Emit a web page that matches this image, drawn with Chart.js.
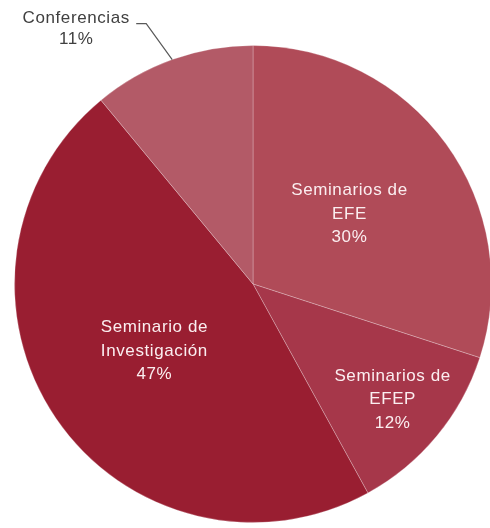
<!DOCTYPE html>
<html>
<head>
<meta charset="utf-8">
<script src="https://cdn.jsdelivr.net/npm/chart.js@4.4.0/dist/chart.umd.min.js"></script>
<style>
  html, body { margin: 0; padding: 0; background: #fff; overflow: hidden; }
  #wrap { position: absolute; left: 0; top: 0; width: 500px; height: 540px; }
</style>
</head>
<body>
<div id="wrap"><canvas id="pieChart" width="500" height="540"></canvas></div>
<script>
const labels = [['Seminarios de', 'EFE'], ['Seminarios de', 'EFEP'], ['Seminario de', 'Investigación'], ['Conferencias']];
const values = [30, 12, 47, 11];
const colors = ['#b04b58', '#a6374a', '#991e31', '#b35a67'];

// where each label sits: fraction of radius from the centre (null = outside with leader line)
const labelPos = [0.5, 0.76, 0.5, null];

const labelPlugin = {
  id: 'sliceLabels',
  afterDatasetsDraw(chart) {
    const ctx = chart.ctx;
    const meta = chart.getDatasetMeta(0);
    ctx.save();
    ctx.font = '17px "Liberation Sans", Arial, sans-serif';
    ctx.letterSpacing = '0.6px';
    ctx.textAlign = 'center';
    ctx.textBaseline = 'middle';
    meta.data.forEach((arc, i) => {
      const mid = (arc.startAngle + arc.endAngle) / 2;
      const lines = labels[i].concat([values[i] + '%']);
      if (labelPos[i] !== null) {
        const r = arc.outerRadius * labelPos[i];
        const cx = arc.x + Math.cos(mid) * r;
        const cy = arc.y + Math.sin(mid) * r;
        ctx.fillStyle = '#fbeef0';
        const lh = 23.5;
        lines.forEach((t, k) => {
          ctx.fillText(t, cx, cy + (k - (lines.length - 1) / 2) * lh);
        });
      } else {
        // outside label with leader line
        const ex = arc.x + Math.cos(mid) * arc.outerRadius;
        const ey = arc.y + Math.sin(mid) * arc.outerRadius;
        const bx = ex - 26;
        const by = ey - 36;
        ctx.strokeStyle = '#595959';
        ctx.lineWidth = 1.2;
        ctx.beginPath();
        ctx.moveTo(ex, ey);
        ctx.lineTo(bx, by);
        ctx.lineTo(bx - 10, by);
        ctx.stroke();
        ctx.fillStyle = '#404040';
        const tx = bx - 70;
        ctx.fillText(lines[0], tx, by - 5);
        ctx.fillText(lines[1], tx, by + 16);
      }
    });
    ctx.restore();
  }
};

new Chart(document.getElementById('pieChart'), {
  type: 'pie',
  data: {
    labels: labels.map(l => l.join(' ')),
    datasets: [{
      data: values,
      backgroundColor: colors,
      borderColor: 'rgba(255,255,255,0.25)',
      borderWidth: 1
    }]
  },
  options: {
    responsive: false,
    animation: false,
    layout: { padding: { left: 14, right: 8, top: 45, bottom: 17 } },
    plugins: {
      legend: { display: false },
      tooltip: { enabled: false }
    }
  },
  plugins: [labelPlugin]
});
</script>
</body>
</html>
